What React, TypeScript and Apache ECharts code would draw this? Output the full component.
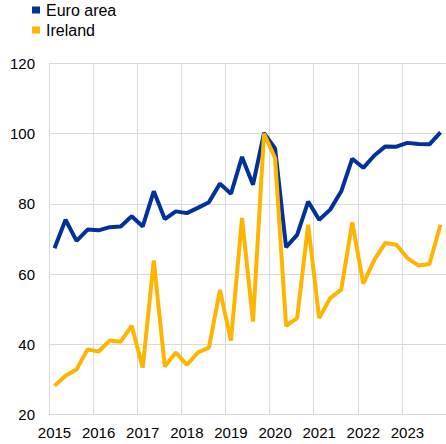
import React, { useEffect, useRef } from "react";
import * as echarts from "echarts";

const years = ["2015", "2016", "2017", "2018", "2019", "2020", "2021", "2022", "2023"];
const quarters = ["Q1", "Q2", "Q3", "Q4"];
const categories: string[] = years.flatMap((y) => quarters.map((q) => `${y} ${q}`));

const euroArea = [
  67.4, 75.5, 69.5, 72.7, 72.5, 73.4, 73.6, 76.5,
  73.6, 83.6, 75.7, 77.9, 77.4, 78.9, 80.5, 85.8,
  82.9, 93.4, 85.5, 100.2, 95.8, 67.7, 71.2, 80.7,
  75.5, 78.4, 83.6, 92.9, 90.3, 93.8, 96.4, 96.3,
  97.4, 97.1, 97.0, 100.4,
];

const ireland = [
  28.2, 31.1, 32.9, 38.6, 38.0, 41.1, 40.8, 45.3,
  33.4, 63.9, 33.7, 37.7, 34.2, 37.7, 39.1, 55.5,
  41.1, 76.0, 46.5, 100.0, 93.1, 45.3, 47.5, 74.1,
  47.5, 53.2, 55.6, 74.8, 57.3, 64.1, 68.9, 68.4,
  64.6, 62.5, 62.9, 74.1,
];

const seriesNames = ["Euro area", "Ireland"];
const yTicks = { min: 20, max: 120, interval: 20 };

export default function App() {
  const ref = useRef<HTMLDivElement>(null);
  useEffect(() => {
    if (!ref.current) return;
    const chart = echarts.init(ref.current, undefined, { renderer: "svg" });
    const font = "'Liberation Sans', Arial, sans-serif";
    chart.setOption({
      animation: false,
      textStyle: { fontFamily: font },
      legend: {
        orient: "vertical",
        left: 27,
        top: -3,
        icon: "rect",
        itemWidth: 8,
        itemHeight: 7,
        itemGap: 4,
        textStyle: { fontSize: 16, color: "#000", fontFamily: font, padding: [0, 0, 0, 1] },
        data: seriesNames,
      },
      grid: { left: 49, right: 0, top: 63.5, bottom: 29.3, containLabel: false },
      xAxis: {
        type: "category",
        data: categories,
        boundaryGap: true,
        axisLine: { show: true, lineStyle: { color: "#d9d9d9", width: 1 } },
        axisTick: { show: false },
        axisLabel: {
          interval: 3,
          color: "#000",
          fontSize: 15,
          margin: 10,
          fontFamily: font,
          formatter: (v: string) => v.split(" ")[0],
        },
        splitLine: { show: true, interval: 3, lineStyle: { color: "#d9d9d9", width: 1 } },
      },
      yAxis: {
        type: "value",
        min: yTicks.min,
        max: yTicks.max,
        interval: yTicks.interval,
        axisLine: { show: true, lineStyle: { color: "#d9d9d9", width: 1 } },
        axisTick: { show: false },
        axisLabel: { color: "#000", fontSize: 15, margin: 14, fontFamily: font },
        splitLine: { show: true, lineStyle: { color: "#d9d9d9", width: 1 } },
      },
      series: [
        {
          name: seriesNames[0],
          type: "line",
          data: euroArea,
          symbol: "none",
          color: "#003299",
          lineStyle: { width: 4, color: "#003299" },
          z: 3,
        },
        {
          name: seriesNames[1],
          type: "line",
          data: ireland,
          symbol: "none",
          color: "#ffb400",
          lineStyle: { width: 4, color: "#ffb400" },
          z: 4,
        },
      ],
    });
    return () => chart.dispose();
  }, []);
  return (
    <div
      ref={ref}
      style={{ position: "fixed", left: 0, top: 0, width: 446, height: 444, background: "#fff" }}
    />
  );
}
